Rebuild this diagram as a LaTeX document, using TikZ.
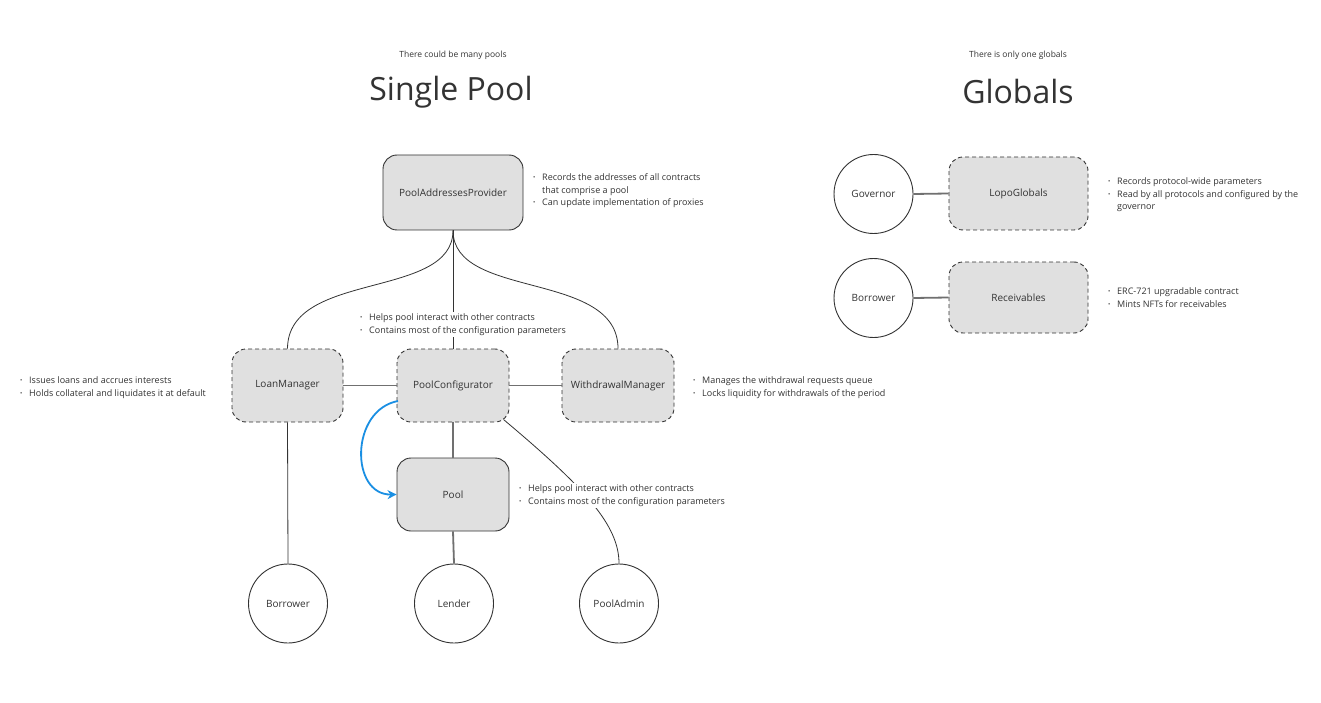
\documentclass[tikz,border=0pt]{standalone}
\usepackage{fontspec}
\setmainfont{Open Sans}
\usetikzlibrary{arrows.meta}
\definecolor{ink}{HTML}{333333}
\definecolor{boxfill}{HTML}{E0E0E0}
\definecolor{conn}{HTML}{707070}
\definecolor{blueline}{HTML}{1A8FE3}
\newcommand{\itm}[1]{\makebox[9pt][l]{\raisebox{0.2ex}{\fontsize{6}{6}\selectfont •}}#1}
\newcommand{\cnt}[1]{\hspace*{9pt}#1}
\tikzset{
  solidbox/.style={draw=ink, line width=0.9pt, fill=boxfill, rounded corners=14pt, text=ink, font=\fontsize{10}{12}\selectfont, inner sep=0},
  dashbox/.style={solidbox, dash pattern=on 4pt off 3pt},
  actor/.style={circle, draw=ink, line width=0.9pt, fill=white, minimum size=79pt, inner sep=0, text=ink, font=\fontsize{10}{12}\selectfont},
  note/.style={anchor=north west, align=left, inner sep=2pt, text=ink, font=\fontsize{9}{12.6}\selectfont},
  thin/.style={draw=ink, line width=0.8pt},
  thick/.style={draw=conn, line width=1.8pt},
  subt/.style={text=ink, font=\fontsize{8.5}{10}\selectfont},
  titl/.style={text=ink, font=\fontsize{32}{36}\selectfont},
}
\begin{document}
\begin{tikzpicture}[x=1pt,y=-1pt]
\useasboundingbox (0,0) rectangle (1321,703);
\fill[white] (0,0) rectangle (1321,703);

% titles
\node[subt] (st1) at (453,55.5) {There could be many pools};
\node[titl] (t1) at (451,92) {Single Pool};
\node[subt] (st2) at (1018,55.5) {There is only one globals};
\node[titl] (t2) at (1018,92) {Globals};

% single pool nodes
\node[solidbox, minimum width=140pt, minimum height=75pt] (pap) at (453,192.5) {PoolAddressesProvider};
\node[dashbox, minimum width=111pt, minimum height=73pt] (lm) at (287.5,385.5) {LoanManager};
\node[dashbox, minimum width=112pt, minimum height=73pt] (pc) at (453,385.5) {PoolConfigurator};
\node[dashbox, minimum width=112pt, minimum height=73pt] (wm) at (618,385.5) {WithdrawalManager};
\node[solidbox, minimum width=112pt, minimum height=73pt] (pool) at (453,494.5) {Pool};
\node[actor] (bor) at (288,603.5) {Borrower};
\node[actor] (len) at (454,603.5) {Lender};
\node[actor] (adm) at (619,603.5) {PoolAdmin};

% globals nodes
\node[actor] (gov) at (873.5,194) {Governor};
\node[dashbox, minimum width=139pt, minimum height=73pt] (lg) at (1018.5,193.5) {LopoGlobals};
\node[actor] (bor2) at (873.5,298) {Borrower};
\node[dashbox, minimum width=139pt, minimum height=71pt] (rec) at (1018.5,297.5) {Receivables};

% connectors
\draw[thin] (pap.south) .. controls (453,300) and (288,270) .. (lm.north);
\draw[thin] (pap.south) .. controls (453,300) and (618,270) .. (wm.north);
\draw[thin] (pap.south) -- (pc.north);
\draw[thick] (lm.east) -- (pc.west);
\draw[thick] (pc.east) -- (wm.west);
\draw[thick] (pc.south) -- (pool.north);
\draw[thick] (pool.south) -- (len.north);
\draw[thin] (lm.south) -- (bor.north);
\coordinate (pcse) at (503.5,419.5);
\draw[thin] (pcse) .. controls (585,488) and (619,525) .. (adm.north);
\coordinate (pcw) at (398,401);
\draw[blueline, line width=1.8pt, -{Stealth[length=9pt,width=9pt]}] (pcw) .. controls (350,410) and (350,495) .. (pool.west);
\draw[thick] (gov.east) -- (lg.west);
\draw[thick] (bor2.east) -- (rec.west);

% notes
\node[note] (n1) at (531,171.5) {\itm{Records the addresses of all contracts}\\\cnt{that comprise a pool}\\\itm{Can update implementation of proxies}};
\node[note, fill=white] (n2) at (358,311.5) {\itm{Helps pool interact with other contracts}\\\itm{Contains most of the configuration parameters}};
\node[note] (n3) at (18,374.5) {\itm{Issues loans and accrues interests}\\\itm{Holds collateral and liquidates it at default}};
\node[note] (n4) at (691,374.5) {\itm{Manages the withdrawal requests queue}\\\itm{Locks liquidity for withdrawals of the period}};
\node[note, fill=white] (n5) at (517,482.5) {\itm{Helps pool interact with other contracts}\\\itm{Contains most of the configuration parameters}};
\node[note] (n6) at (1106,175.5) {\itm{Records protocol-wide parameters}\\\itm{Read by all protocols and configured by the}\\\cnt{governor}};
\node[note] (n7) at (1106,285.5) {\itm{ERC-721 upgradable contract}\\\itm{Mints NFTs for receivables}};
\end{tikzpicture}
\end{document}
